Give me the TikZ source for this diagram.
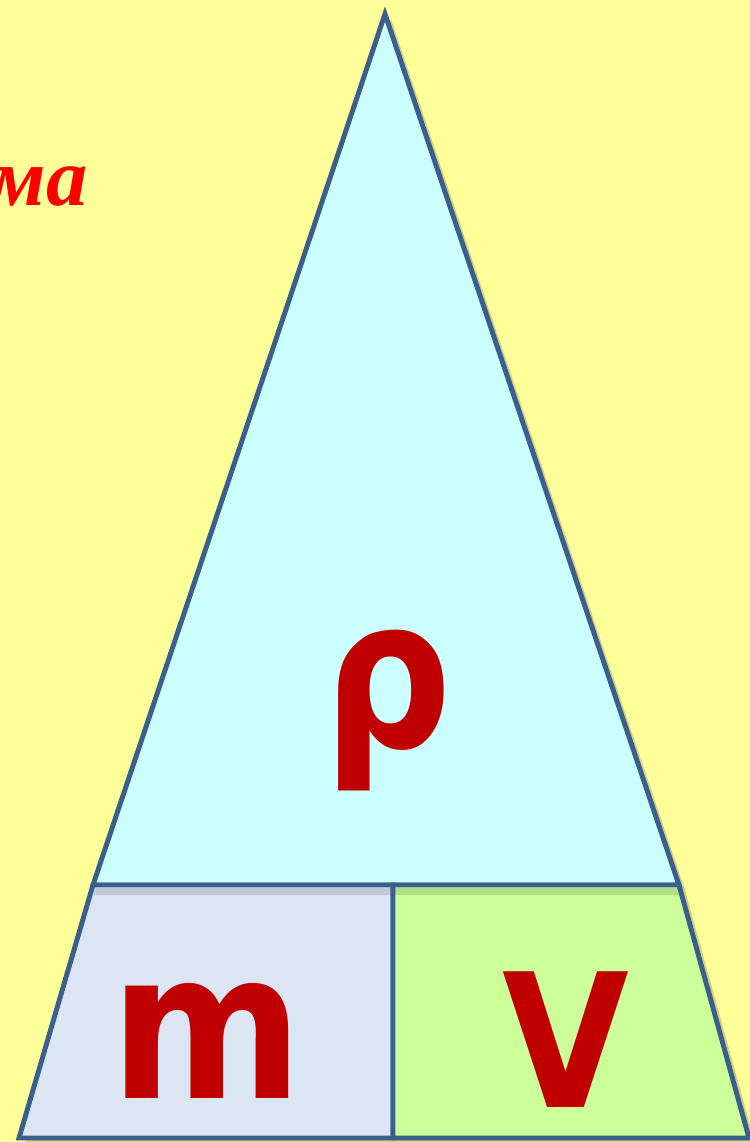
\documentclass[tikz,border=0pt]{standalone}
\usepackage{fontspec}
\setmainfont{Liberation Serif}
\newfontfamily\letterfont{DejaVu Sans}
\usetikzlibrary{calc}
\definecolor{bgyellow}{HTML}{FFFF99}
\definecolor{triblue}{HTML}{CCFFFF}
\definecolor{mfill}{HTML}{DCE6F2}
\definecolor{vfill}{HTML}{CCFF99}
\definecolor{edge}{HTML}{3A5F8E}
\definecolor{darkred}{HTML}{C00000}
\tikzset{
  part/.style={draw=edge, line width=2.8pt, line join=miter},
  shadowpart/.style={fill=black, opacity=0.18},
  bigletter/.style={text=darkred, inner sep=0pt, anchor=base},
}
\begin{document}
\begin{tikzpicture}[x=0.02cm, y=-0.02cm]
\clip (0,0) rectangle (750,1142);
\fill[bgyellow] (0,0) rectangle (750,1142);
% coordinates
\coordinate (apex) at (385,14);
\coordinate (tl) at (93,885);
\coordinate (tr) at (679,885);
\coordinate (bl) at (19,1138);
\coordinate (br) at (749,1138);
\coordinate (mt) at (393,885);
\coordinate (mb) at (393,1138);
% shadows
\fill[shadowpart] ($(apex)+(6,5)$) -- ($(tr)+(6,5)$) -- ($(br)+(6,5)$) -- ($(bl)+(6,5)$) -- ($(tl)+(6,5)$) -- cycle;
% parts
\filldraw[part, fill=triblue] (apex) -- (tr) -- (tl) -- cycle;
\filldraw[part, fill=mfill] (tl) -- (mt) -- (mb) -- (bl) -- cycle;
\filldraw[part, fill=vfill] (mt) -- (tr) -- (br) -- (mb) -- cycle;
\fill[black, opacity=0.12] ($(tl)+(2,3)$) -- ($(tr)+(-1,3)$) -- ($(tr)+(0,10)$) -- ($(tl)+(1,10)$) -- cycle;
\draw[part] (tl) -- (tr);
\draw[part] (mt) -- (mb);
% letters
\node[bigletter] (rho) at (388,747) {\scalebox{0.86}[1]{\fontsize{119pt}{119pt}\letterfont\bfseries ρ}};
\node[bigletter] (m) at (207,1098) {\scalebox{0.9}[1]{\fontsize{117pt}{117pt}\letterfont\bfseries m}};
\node[bigletter] (v) at (566,1107) {\scalebox{0.88}[1]{\fontsize{106pt}{106pt}\letterfont\bfseries V}};
% title fragment
\node[anchor=base east, inner sep=0pt, text=red] (title) at (88,206) {\fontsize{47pt}{47pt}\selectfont\bfseries\itshape ма};
\end{tikzpicture}
\end{document}
